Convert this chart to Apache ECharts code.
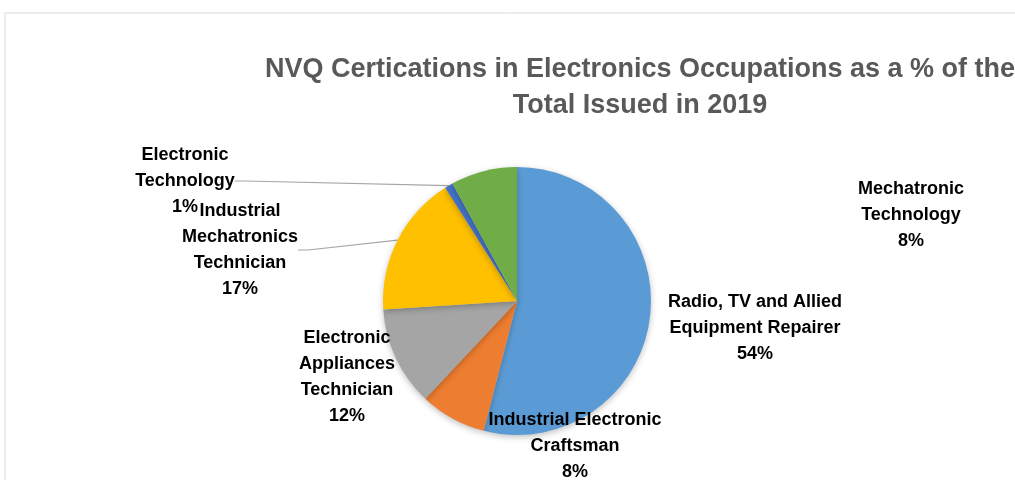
<!DOCTYPE html>
<html>
<head>
<meta charset="utf-8">
<script src="https://cdn.jsdelivr.net/npm/echarts@6/dist/echarts.min.js"></script>
<style>
  html, body { margin: 0; padding: 0; background: #fff; }
  #chart { width: 1015px; height: 480px; }
</style>
</head>
<body>
<div id="chart"></div>
<script>
// Occupation names (line breaks as shown in the labels)
const categories = [
  'Radio, TV and Allied\nEquipment Repairer',
  'Industrial Electronic\nCraftsman',
  'Electronic\nAppliances\nTechnician',
  'Industrial\nMechatronics\nTechnician',
  'Electronic\nTechnology',
  'Mechatronic\nTechnology'
];
// Share of NVQ certificates issued (%)
const shares = [54, 8, 12, 17, 1, 8];
const colors = ['#5B9BD5', '#ED7D31', '#A5A5A5', '#FFC000', '#4472C4', '#70AD47'];

const titleLines = [
  'NVQ Certications in Electronics Occupations as a % of the',
  'Total Issued in 2019'
];

// Label anchor points (centre of each text block)
const labelPos = [
  [755, 328],
  [575, 446],
  [347, 377],
  [240, 250],
  [185, 181],
  [911, 215]
];
const withLeader = [false, false, false, true, true, false];

const chart = echarts.init(document.getElementById('chart'), null, { renderer: 'canvas' });

const fontFamily = '"Liberation Sans", Arial, sans-serif';

chart.setOption({
  animation: false,
  graphic: [
    {
      type: 'rect',
      shape: { x: 5, y: 13, width: 1200, height: 600 },
      style: { fill: 'none', stroke: '#d9d9d9', lineWidth: 1 },
      z: 0
    },
    {
      type: 'text',
      x: 640, y: 70,
      style: {
        text: titleLines[0],
        font: 'bold 27px ' + fontFamily,
        fill: '#595959',
        textAlign: 'center',
        textVerticalAlign: 'middle'
      }
    },
    {
      type: 'text',
      x: 640, y: 106,
      style: {
        text: titleLines[1],
        font: 'bold 27px ' + fontFamily,
        fill: '#595959',
        textAlign: 'center',
        textVerticalAlign: 'middle'
      }
    }
  ],
  series: [{
    type: 'pie',
    center: [517, 301],
    radius: 134,
    startAngle: 90,
    clockwise: true,
    avoidLabelOverlap: false,
    itemStyle: {
      shadowBlur: 6,
      shadowColor: 'rgba(0,0,0,0.25)',
      shadowOffsetY: 2
    },
    label: {
      show: true,
      position: 'outside',
      formatter: p => p.name + '\n' + p.value + '%',
      color: '#000',
      fontFamily: fontFamily,
      fontWeight: 'bold',
      fontSize: 18,
      lineHeight: 26,
      align: 'center'
    },
    labelLine: {
      show: true,
      length: 10,
      length2: 10,
      lineStyle: { color: '#a6a6a6', width: 1.2 }
    },
    labelLayout: p => ({
      x: labelPos[p.dataIndex][0],
      y: labelPos[p.dataIndex][1],
      align: 'center',
      verticalAlign: 'middle'
    }),
    data: categories.map((name, i) => ({
      name: name,
      value: shares[i],
      itemStyle: { color: colors[i] },
      labelLine: { show: withLeader[i] }
    }))
  }]
});
</script>
</body>
</html>
